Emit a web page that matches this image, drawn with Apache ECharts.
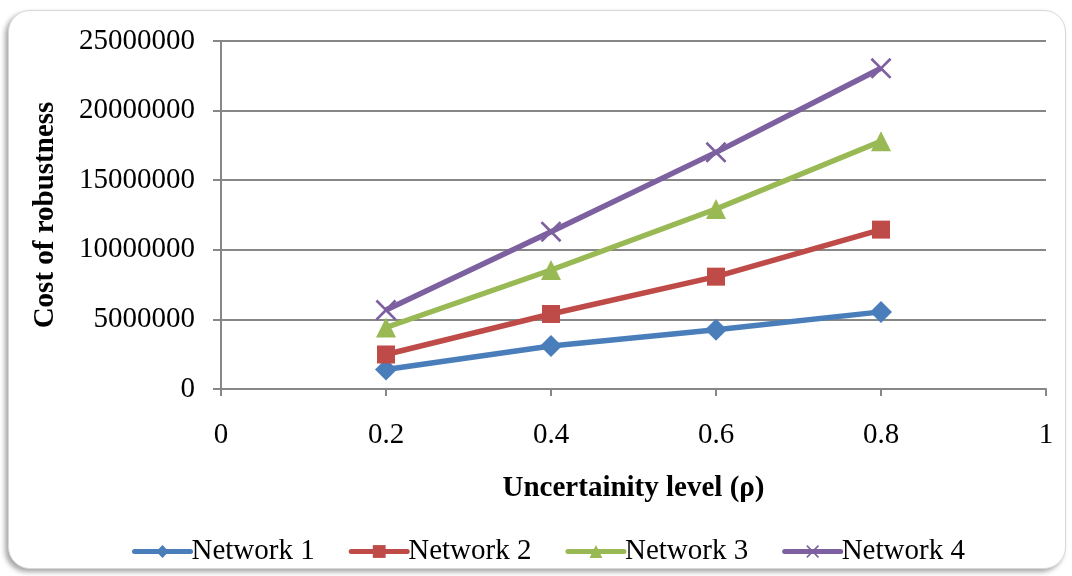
<!DOCTYPE html>
<html>
<head>
<meta charset="utf-8">
<script src="https://cdn.jsdelivr.net/npm/echarts@6/dist/echarts.min.js"></script>
<style>
  html, body { margin: 0; padding: 0; background: #ffffff; }
  #frame {
    position: absolute; left: 8px; top: 10px; width: 1056px; height: 557px;
    border: 1px solid #d8d8d8; border-radius: 22px; background: #ffffff;
    box-shadow: -3px 3px 5px rgba(0,0,0,0.35);
  }
  #chart { position: absolute; left: 0; top: 0; width: 1072px; height: 576px; }
</style>
</head>
<body>
<div id="frame"></div>
<div id="chart"></div>
<script>
// Uncertainty levels (x) and robustness cost per network
const rho = [0.2, 0.4, 0.6, 0.8];
const network1 = [1400000, 3090000, 4260000, 5540000];
const network2 = [2480000, 5390000, 8070000, 11450000];
const network3 = [4420000, 8550000, 12930000, 17800000];
const network4 = [5670000, 11300000, 17000000, 23040000];
const seriesNames = ['Network 1', 'Network 2', 'Network 3', 'Network 4'];
const colors = ['#4A7EBB', '#BE4B48', '#98B954', '#7D60A0'];

// thin "x" marker drawn as a filled outline
const crossPath = 'path://M0,9L9,0L50,41L91,0L100,9L59,50L100,91L91,100L50,59L9,100L0,91L41,50Z';
const symbols = ['diamond', 'rect', 'triangle', crossPath];
const symbolSizes = [22, 18, 20, 21];

const font = '"Liberation Serif", "Times New Roman", serif';
const gridColor = '#878787';

function pairs(values) { return rho.map((x, i) => [x, values[i]]); }
const allValues = [network1, network2, network3, network4];

const chart = echarts.init(document.getElementById('chart'), null, { renderer: 'canvas' });
chart.setOption({
  backgroundColor: 'transparent',
  animation: false,
  color: colors,
  grid: { left: 221, right: 26, top: 41, bottom: 187, containLabel: false },
  legend: {
    data: seriesNames,
    left: 127,
    top: 532,
    itemWidth: 56,
    itemHeight: 16,
    itemGap: 34,
    lineStyle: { width: 5, cap: 'round' },
    textStyle: { fontFamily: font, fontSize: 29, color: '#000', padding: [0, 0, 0, -4] }
  },
  xAxis: {
    type: 'value', min: 0, max: 1, interval: 0.2,
    name: 'Uncertainity level (\u03C1)', nameLocation: 'middle', nameGap: 85,
    nameTextStyle: { fontFamily: font, fontSize: 29, fontWeight: 'bold', color: '#000' },
    axisLine: { show: true, lineStyle: { color: gridColor, width: 2 } },
    axisTick: { show: true, length: 7, lineStyle: { color: gridColor, width: 2 } },
    axisLabel: { fontFamily: font, fontSize: 29, color: '#000', margin: 32,
                 formatter: v => String(v) },
    splitLine: { show: false }
  },
  yAxis: {
    type: 'value', min: 0, max: 25000000, interval: 5000000,
    name: 'Cost of robustness', nameLocation: 'middle', nameGap: 161,
    nameTextStyle: { fontFamily: font, fontSize: 29, fontWeight: 'bold', color: '#000' },
    axisLine: { show: true, lineStyle: { color: gridColor, width: 2 } },
    axisTick: { show: true, length: 8, lineStyle: { color: gridColor, width: 2 } },
    axisLabel: { fontFamily: font, fontSize: 29, color: '#000', margin: 26,
                 formatter: v => String(v) },
    splitLine: { show: true, lineStyle: { color: gridColor, width: 2 } }
  },
  series: seriesNames.map((name, i) => ({
    name: name,
    type: 'line',
    data: pairs(allValues[i]),
    symbol: symbols[i],
    symbolSize: symbolSizes[i],
    showAllSymbol: true,
    lineStyle: { width: 5.5, color: colors[i] },
    itemStyle: { color: colors[i] },
    z: 2 + i
  }))
});
</script>
</body>
</html>
